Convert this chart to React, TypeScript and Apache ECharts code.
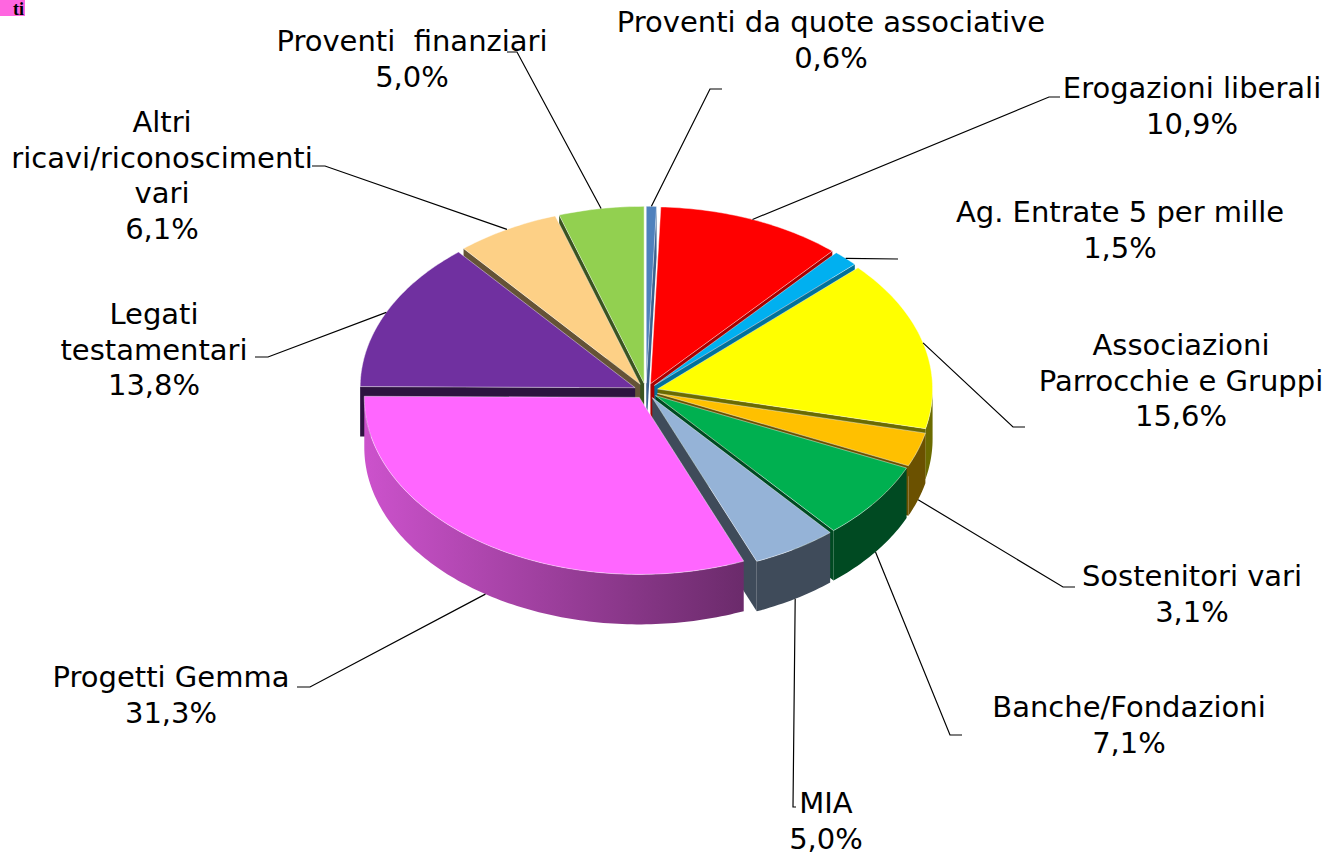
import React, { useEffect, useRef } from "react";
import * as echarts from "echarts";

// ---- data ----
const categories = [
  "Proventi da quote associative",
  "Erogazioni liberali",
  "Ag. Entrate 5 per mille",
  "Associazioni\nParrocchie e Gruppi",
  "Sostenitori vari",
  "Banche/Fondazioni",
  "MIA",
  "Progetti Gemma",
  "Legati\ntestamentari",
  "Altri\nricavi/riconoscimenti\nvari",
  "Proventi  finanziari",
];
const values = [0.6, 10.9, 1.5, 15.6, 3.1, 7.1, 5.0, 31.3, 13.8, 6.1, 5.0];
const colors = [
  "#4f81bd",
  "#ff0000",
  "#00b0f0",
  "#ffff00",
  "#ffc000",
  "#00b050",
  "#95b3d7",
  "#ff66ff",
  "#7030a0",
  "#fdd086",
  "#92d050",
];

// ---- label layout (text centre x, first line centre y, leader elbow, leader end x) ----
const labelX = [831, 1192, 1120, 1181, 1192, 1129, 826, 171, 154, 162, 412];
const labelY = [22, 88, 212, 345, 576, 707, 803, 677, 314, 122, 41];
const elbowX = [710, 1049, 898, 1013, 1063, 950, 793, 310, 268, 325, 517];
const elbowY = [89, 97, 259, 427, 587, 735, 807, 687, 357, 166, 52];
const endX = [722, 1060, 898, 1025, 1075, 962, 796, 297, 255, 312, 507];

// ---- pie geometry ----
const CX = 646;
const CY = 391;
const RX = 275;
const RY = 177;
const K = RY / RX;
const EXP = 12;
const DEPTH = 50;
const TOTAL = values.reduce((a, b) => a + b, 0);
const starts = values.map((_, i) => values.slice(0, i).reduce((a, b) => a + b, 0));

function geom(i: number) {
  const a0 = (starts[i] / TOTAL) * 2 * Math.PI;
  const a1 = ((starts[i] + values[i]) / TOTAL) * 2 * Math.PI;
  const m = (a0 + a1) / 2;
  return { a0, a1, m, ox: EXP * Math.sin(m), oy: -EXP * K * Math.cos(m) };
}
function pt(g: any, t: number, dz: number) {
  return [CX + g.ox + RX * Math.sin(t), CY + g.oy - RY * Math.cos(t) + dz];
}
function arc(g: any, t0: number, t1: number, dz: number) {
  const n = Math.max(2, Math.ceil(Math.abs(t1 - t0) / (Math.PI / 180)));
  const out: number[][] = [];
  for (let s = 0; s <= n; s++) out.push(pt(g, t0 + ((t1 - t0) * s) / n, dz));
  return out;
}
function shade(hex: string, f: number) {
  const n = parseInt(hex.slice(1), 16);
  const r = Math.round(((n >> 16) & 255) * f);
  const g = Math.round(((n >> 8) & 255) * f);
  const b = Math.round((n & 255) * f);
  return `rgb(${r},${g},${b})`;
}
function wallFactor(x: number) {
  const f = 0.8 - (0.38 * (x - 365)) / 325;
  return Math.max(0.42, Math.min(0.82, f));
}
function fmt(v: number) {
  return v.toFixed(1).replace(".", ",") + "%";
}

function renderItem(params: any) {
  const i = params.dataIndex;
  const g = geom(i);
  const col = colors[i];
  const children: any[] = [];
  const apex = [CX + g.ox, CY + g.oy];
  const apexB = [apex[0], apex[1] + DEPTH];

  if (Math.sin(g.a0) < -1e-6) {
    const r = pt(g, g.a0, 0);
    const rb = pt(g, g.a0, DEPTH);
    children.push({
      type: "polygon",
      shape: { points: [apex, r, rb, apexB] },
      style: { fill: shade(col, 0.4) },
      z2: Math.round((apex[1] + r[1]) / 2),
    });
  }
  if (Math.sin(g.a1) > 1e-6) {
    const r = pt(g, g.a1, 0);
    const rb = pt(g, g.a1, DEPTH);
    const f = Math.max(0.42, 0.4 + 0.35 * Math.cos(g.a1));
    children.push({
      type: "polygon",
      shape: { points: [apex, r, rb, apexB] },
      style: { fill: shade(col, f) },
      z2: Math.round((apex[1] + r[1]) / 2),
    });
  }
  const t0 = Math.max(g.a0, Math.PI / 2);
  const t1 = Math.min(g.a1, 1.5 * Math.PI);
  if (t1 > t0) {
    const top = arc(g, t0, t1, 0);
    const bot = arc(g, t1, t0, DEPTH);
    const xs = top.map((p) => p[0]);
    const xmin = Math.min(...xs);
    const xmax = Math.max(...xs);
    const cy = top.reduce((a, p) => a + p[1], 0) / top.length;
    children.push({
      type: "polygon",
      shape: { points: top.concat(bot) },
      style: {
        fill: new echarts.graphic.LinearGradient(0, 0, 1, 0, [
          { offset: 0, color: shade(col, wallFactor(xmin)) },
          { offset: 1, color: shade(col, wallFactor(xmax)) },
        ]),
      },
      z2: Math.round(cy),
    });
  }
  children.push({
    type: "polygon",
    shape: { points: [apex].concat(arc(g, g.a0, g.a1, 0)) },
    style: { fill: col, stroke: "rgba(255,255,255,0.55)", lineWidth: 0.8 },
    z2: 3000,
  });
  return { type: "group", children };
}

function labelGraphics() {
  const els: any[] = [];
  values.forEach((v, i) => {
    const g = geom(i);
    const front = Math.cos(g.m) < 0;
    const a = pt(g, g.m, front ? DEPTH : 0);
    els.push({
      type: "polyline",
      shape: { points: [a, [elbowX[i], elbowY[i]], [endX[i], elbowY[i]]] },
      style: { stroke: "#000", lineWidth: 1.2, fill: null },
      z: 10,
    });
    els.push({
      type: "text",
      x: labelX[i],
      y: labelY[i] - 17.75,
      style: {
        text: categories[i] + "\n" + fmt(v),
        fill: "#000",
        fontFamily: "DejaVu Sans",
        fontSize: 29,
        lineHeight: 35.5,
        align: "center",
        verticalAlign: "top",
      },
      z: 10,
    });
  });
  els.push({
    type: "rect",
    shape: { x: 0, y: 0, width: 25, height: 16 },
    style: { fill: "#ff66e0" },
    z: 10,
  });
  els.push({
    type: "text",
    x: 24,
    y: 0,
    style: {
      text: "ti",
      fill: "#000",
      fontFamily: "Liberation Serif",
      fontWeight: "bold",
      fontSize: 18,
      align: "right",
      verticalAlign: "top",
    },
    z: 11,
  });
  return els;
}

export default function App() {
  const ref = useRef<HTMLDivElement>(null);
  useEffect(() => {
    if (!ref.current) return;
    const chart = echarts.init(ref.current, null, { renderer: "svg" });
    chart.setOption({
      animation: false,
      backgroundColor: "#ffffff",
      series: [
        {
          type: "custom",
          coordinateSystem: "none",
          silent: true,
          data: values.map((v, i) => ({ name: categories[i], value: v })),
          renderItem,
        },
      ],
      graphic: labelGraphics(),
    });
    return () => chart.dispose();
  }, []);
  return (
    <div
      ref={ref}
      style={{ position: "absolute", left: 0, top: 0, width: 1332, height: 854, background: "#fff" }}
    />
  );
}
